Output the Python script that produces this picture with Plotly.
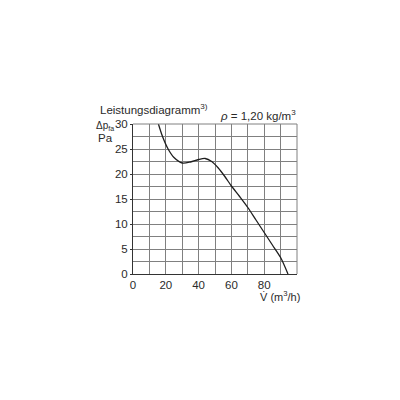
import plotly.graph_objects as go

flow = [15.5, 18, 21.4, 25, 30, 35, 40, 44, 48, 52, 56, 60, 65, 70, 75, 80, 85, 90, 94.5]
pressure = [30, 27.5, 25, 23.3, 22.2, 22.4, 22.9, 23.1, 22.5, 21.2, 19.5, 17.6, 15.5, 13.3, 10.8, 8.3, 5.8, 3.3, 0]
x_ticks = [0, 20, 40, 60, 80]
y_ticks = [0, 5, 10, 15, 20, 25, 30]

FONT = "Liberation Sans, Arial, sans-serif"
GRID = "#808080"
TXT = "#2a2a2a"

fig = go.Figure()
fig.add_trace(go.Scatter(x=flow, y=pressure, mode="lines",
                         line=dict(color="#1e1e1e", width=1.3, shape="spline", smoothing=0.8),
                         hoverinfo="skip"))

fig.update_layout(
    width=400, height=400,
    margin=dict(l=125, r=111, t=115.5, b=134),
    paper_bgcolor="white", plot_bgcolor="white",
    showlegend=False,
    font=dict(family=FONT, size=11.5, color=TXT),
    xaxis=dict(range=[0, 100], tickvals=x_ticks, ticktext=[str(v) for v in x_ticks],
               showgrid=True, gridcolor=GRID, gridwidth=1,
               minor=dict(dtick=10, tick0=0, showgrid=True, gridcolor=GRID, gridwidth=1),
               showline=True, linecolor="#333333", linewidth=1, mirror=False,
               ticks="", ticklen=0, zeroline=False, fixedrange=True,
               tickfont=dict(family=FONT, size=11.5, color=TXT)),
    yaxis=dict(range=[0, 30], tickvals=y_ticks, ticktext=[str(v) for v in y_ticks],
               showgrid=True, gridcolor=GRID, gridwidth=1,
               minor=dict(dtick=2.5, tick0=0, showgrid=True, gridcolor=GRID, gridwidth=1),
               showline=True, linecolor="#333333", linewidth=1,
               ticks="outside", ticklen=2, tickcolor="#333333",
               zeroline=False, fixedrange=True,
               tickfont=dict(family=FONT, size=11.5, color=TXT)),
)

fig.add_shape(type="line", xref="paper", yref="paper", x0=0, x1=1, y0=1, y1=1,
              line=dict(color=GRID, width=1))
fig.add_shape(type="line", xref="paper", yref="paper", x0=1, x1=1, y0=0, y1=1,
              line=dict(color=GRID, width=1))

fig.add_annotation(text="Leistungsdiagramm<sup>3)</sup>", xref="paper", yref="paper",
                   x=-0.215, y=1.10, xanchor="left", yanchor="middle", showarrow=False,
                   font=dict(family=FONT, size=11.5, color=TXT))
fig.add_annotation(text="<i>ρ</i> = 1,20 kg/m<sup>3</sup>", xref="paper", yref="paper",
                   x=1.005, y=1.06, xanchor="right", yanchor="middle", showarrow=False,
                   font=dict(family=FONT, size=11.5, color=TXT))
fig.add_annotation(text="Δp<sub>fa</sub>", xref="paper", yref="paper",
                   x=-0.235, y=0.985, xanchor="left", yanchor="middle", showarrow=False,
                   font=dict(family=FONT, size=10, color=TXT))
fig.add_annotation(text="Pa", xref="paper", yref="paper",
                   x=-0.228, y=0.905, xanchor="left", yanchor="middle", showarrow=False,
                   font=dict(family=FONT, size=11.5, color=TXT))
fig.add_annotation(text="V\u0307 (m<sup>3</sup>/h)", xref="paper", yref="paper",
                   x=0.76, y=-0.148, xanchor="left", yanchor="middle", showarrow=False,
                   font=dict(family=FONT, size=11, color=TXT))

fig.write_html("out.html")
